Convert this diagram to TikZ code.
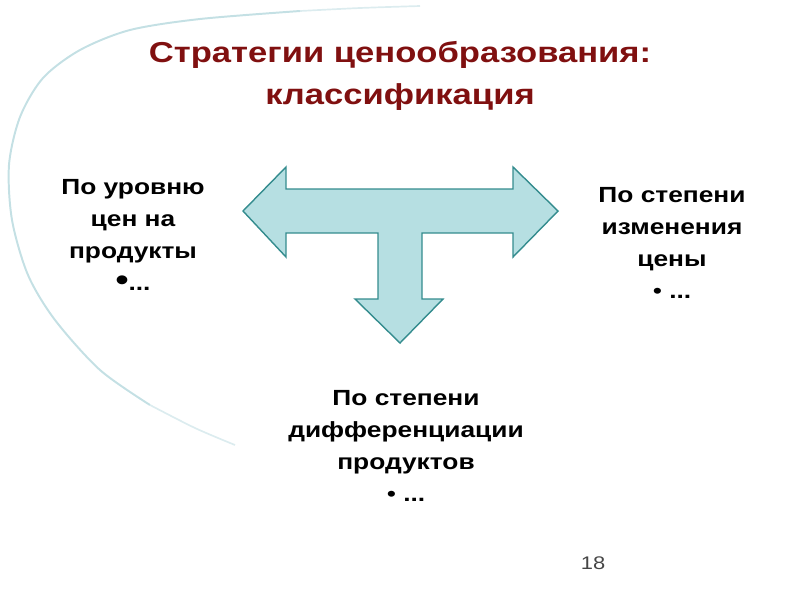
\documentclass[tikz,border=0pt]{standalone}
\usepackage{fontspec}
\setmainfont{Liberation Sans}[FakeStretch=1.2]
\usetikzlibrary{positioning}
\definecolor{titlered}{RGB}{128,16,16}
\definecolor{arrowfill}{RGB}{182,223,226}
\definecolor{arrowline}{RGB}{52,140,142}
\definecolor{arcblue}{RGB}{196,224,228}
\definecolor{pagegray}{RGB}{70,70,70}

\begin{document}
\begin{tikzpicture}[x=0.025cm, y=-0.025cm,
    heading/.style={font=\fontsize{20.5}{30}\selectfont\bfseries, text=titlered, align=center},
    branch/.style={font=\fontsize{15.6}{22.8}\selectfont\bfseries, align=center}]
    \useasboundingbox (0,0) rectangle (800,600);
    % Background arc
    \draw [arcblue, line width=1.4pt] plot[smooth] coordinates {
        (300,11) (200,19) (130,30) (80,50) (43,78) (20,117) (9,165)
        (12,220) (28,275) (55,320) (100,370) (150,405)};
    \draw [arcblue!60, line width=1.2pt] plot[smooth] coordinates {
        (420,6) (360,8) (300,11)};
    \draw [arcblue!60, line width=1.2pt] plot[smooth] coordinates {
        (150,405) (195,428) (235,445)};
    % T-shaped arrow
    \draw [arrowline, fill=arrowfill, line width=1pt, line join=miter]
        (243,211) -- (286,167) -- (286,189) -- (513,189) -- (513,167)
        -- (558,211) -- (513,257) -- (513,233) -- (422,233) -- (422,299)
        -- (443,299) -- (400,343) -- (355,299) -- (378,299) -- (378,233)
        -- (286,233) -- (286,257) -- cycle;
    % Title
    \node [heading] (title) at (400,76) {Стратегии ценообразования:\\классификация};
    % Branches
    \node [branch] (level) at (133,235) {По уровню\\цен на\\продукты\\{\fontsize{22}{22.8}\selectfont•}...};
    \node [branch] (change) at (672,243) {По степени\\изменения\\цены\\{\mdseries•} ...};
    \node [branch] (diff) at (406,446) {По степени\\дифференциации\\продуктов\\{\mdseries•} ...};
    % Slide number
    \node [font=\fontsize{13}{15}\selectfont, text=pagegray] (num) at (593,563) {18};
\end{tikzpicture}
\end{document}
